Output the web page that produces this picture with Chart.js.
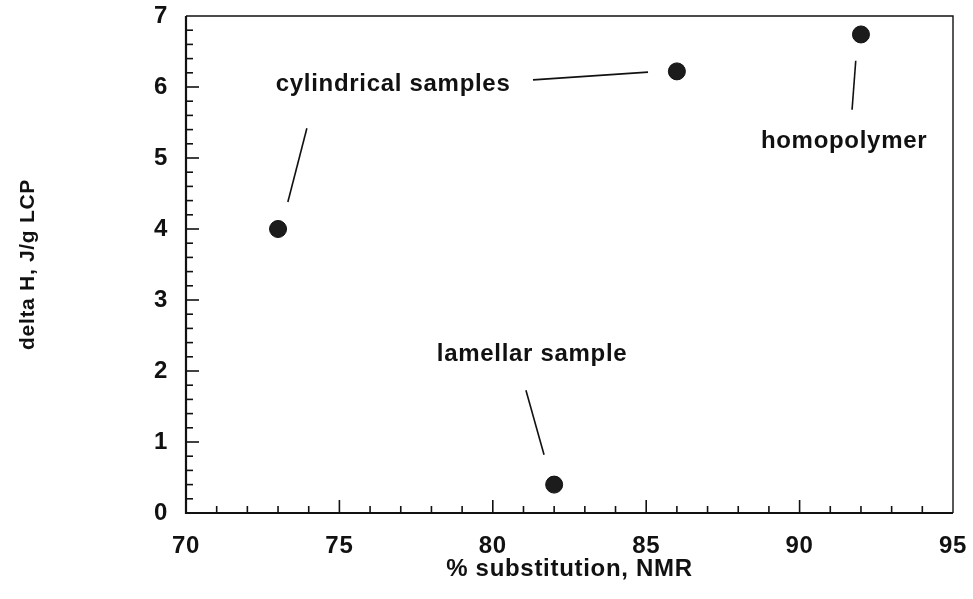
<!DOCTYPE html>
<html>
<head>
<meta charset="utf-8">
<script src="https://cdn.jsdelivr.net/npm/chart.js@4.4.1/dist/chart.umd.min.js"></script>
<style>
  html, body { margin: 0; padding: 0; background: #ffffff; }
  #wrap { width: 973px; height: 599px; }
</style>
</head>
<body>
<div id="wrap"><canvas id="c" width="973" height="599"></canvas></div>
<script>
// ---- data ----
const substitution = [73, 82, 86, 92];          // % substitution, NMR
const deltaH = [4.0, 0.4, 6.22, 6.74];          // delta H, J/g LCP

const xTickValues = [70, 75, 80, 85, 90, 95];
const yTickValues = [0, 1, 2, 3, 4, 5, 6, 7];

const annotationText = ['cylindrical samples', 'homopolymer', 'lamellar sample'];
const annotationX = [76.75, 91.45, 81.28];
const annotationY = [6.04, 5.23, 2.24];

// leader lines (data coordinates)
const leaderFromX = [73.94, 81.31, 91.83, 81.08];
const leaderFromY = [5.42, 6.10, 6.37, 1.73];
const leaderToX   = [73.32, 85.06, 91.71, 81.67];
const leaderToY   = [4.38, 6.21, 5.68, 0.82];

const FONT = "'Liberation Sans', Arial, Helvetica, sans-serif";

const leaderDatasets = leaderFromX.map((x0, i) => ({
  type: 'scatter',
  data: [{x: x0, y: leaderFromY[i]}, {x: leaderToX[i], y: leaderToY[i]}],
  showLine: true,
  borderColor: '#111111',
  borderWidth: 1.6,
  pointRadius: 0,
  pointHoverRadius: 0,
  fill: false
}));

const framePlugin = {
  id: 'frameAndTicks',
  beforeDraw(chart) {
    chart.ctx.letterSpacing = '0.7px';
  },
  afterDraw(chart) {
    const ctx = chart.ctx;
    const a = chart.chartArea;
    const xs = chart.scales.x, ys = chart.scales.y;
    ctx.save();
    ctx.strokeStyle = '#111111';
    // frame
    ctx.lineWidth = 1.4;
    ctx.beginPath();
    ctx.moveTo(a.left, a.top); ctx.lineTo(a.right, a.top); ctx.lineTo(a.right, a.bottom);
    ctx.stroke();
    ctx.lineWidth = 2.2;
    ctx.beginPath();
    ctx.moveTo(a.left, a.top); ctx.lineTo(a.left, a.bottom); ctx.lineTo(a.right, a.bottom);
    ctx.stroke();
    // inward ticks on x axis: every 1 unit, major every 5
    ctx.lineWidth = 1.6;
    for (let v = xs.min + 1; v < xs.max; v += 1) {
      const px = xs.getPixelForValue(v);
      const len = (v % 5 === 0) ? 13 : 7;
      ctx.beginPath(); ctx.moveTo(px, a.bottom); ctx.lineTo(px, a.bottom - len); ctx.stroke();
    }
    // inward ticks on y axis: every 0.2, major every 1
    for (let k = 1; k < (ys.max - ys.min) * 5; k++) {
      const v = ys.min + k * 0.2;
      const py = ys.getPixelForValue(v);
      const len = (k % 5 === 0) ? 13 : 7;
      ctx.beginPath(); ctx.moveTo(a.left, py); ctx.lineTo(a.left + len, py); ctx.stroke();
    }
    // annotation texts
    ctx.fillStyle = '#111111';
    ctx.font = "bold 24px " + FONT;
    ctx.textAlign = 'center';
    ctx.textBaseline = 'middle';
    ctx.letterSpacing = '0.7px';
    annotationText.forEach((t, i) => {
      ctx.fillText(t, xs.getPixelForValue(annotationX[i]), ys.getPixelForValue(annotationY[i]));
    });
    ctx.restore();
  }
};

new Chart(document.getElementById('c'), {
  type: 'scatter',
  data: {
    datasets: [
      {
        data: substitution.map((x, i) => ({x: x, y: deltaH[i]})),
        backgroundColor: '#1c1c1c',
        borderColor: '#111111',
        borderWidth: 1,
        pointRadius: 8.5,
        pointHoverRadius: 8.5
      },
      ...leaderDatasets
    ]
  },
  options: {
    responsive: false,
    animation: false,
    devicePixelRatio: 1,
    layout: { padding: { top: 16, right: 20, left: 0, bottom: 0 } },
    plugins: { legend: { display: false }, tooltip: { enabled: false } },
    scales: {
      x: {
        type: 'linear',
        min: 70, max: 95,
        afterFit(scale) { scale.height = 86; scale.paddingLeft = 0; scale.paddingRight = 0; },
        afterBuildTicks(scale) { scale.ticks = xTickValues.map(v => ({value: v})); },
        grid: { display: false },
        border: { display: false },
        ticks: { color: '#111111', font: { size: 24, family: FONT, weight: 'bold' }, padding: 11, maxRotation: 0, autoSkip: false },
        title: { display: true, text: '% substitution, NMR', color: '#111111',
                 font: { size: 24, family: FONT, weight: 'bold' }, padding: { top: 0, bottom: 15 } }
      },
      y: {
        type: 'linear',
        min: 0, max: 7,
        afterFit(scale) { scale.width = 186; scale.paddingTop = 0; scale.paddingBottom = 0; },
        afterBuildTicks(scale) { scale.ticks = yTickValues.map(v => ({value: v})); },
        grid: { display: false },
        border: { display: false },
        ticks: { color: '#111111', font: { size: 24, family: FONT, weight: 'bold' }, padding: 10, autoSkip: false },
        title: { display: true, text: 'delta H, J/g LCP', color: '#111111',
                 font: { size: 21, family: FONT, weight: 'bold' }, padding: { top: 16, bottom: 0 } }
      }
    }
  },
  plugins: [framePlugin]
});
</script>
</body>
</html>
